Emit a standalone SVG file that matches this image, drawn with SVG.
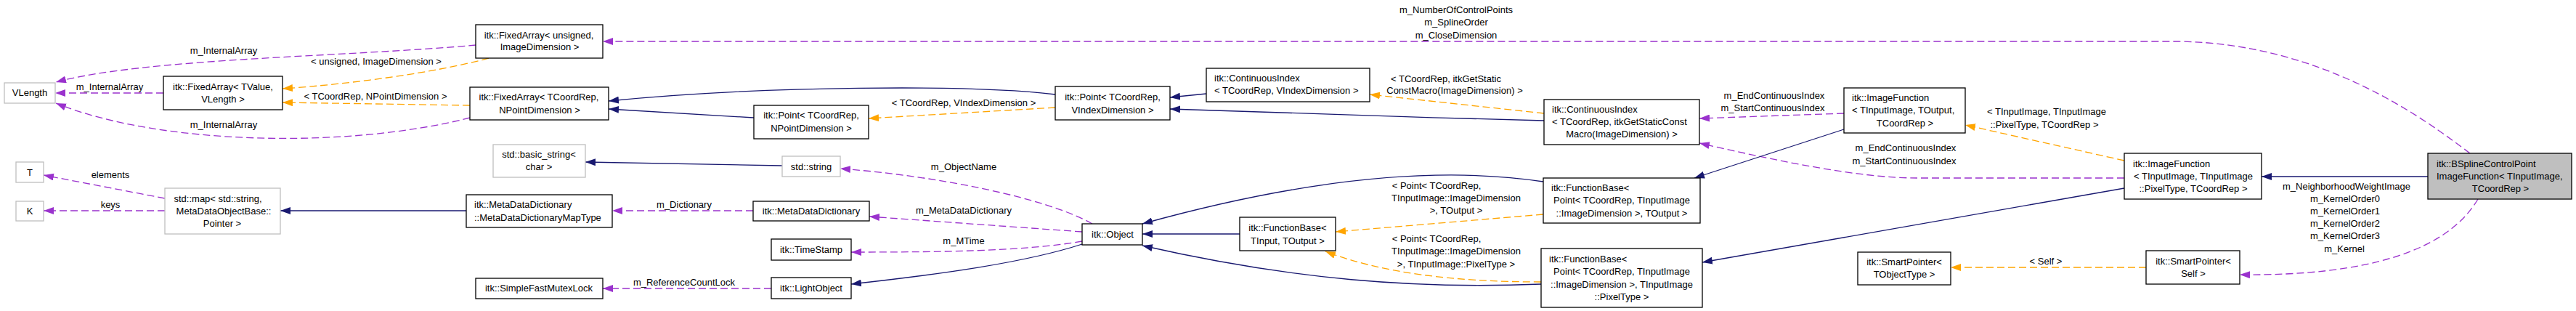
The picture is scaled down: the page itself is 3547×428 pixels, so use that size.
<svg xmlns="http://www.w3.org/2000/svg" width="3547" height="428" viewBox="0 0 3547 428">
<style>
text{font-family:"Liberation Sans",Arial,sans-serif;font-size:13px;fill:#000}
.m{text-anchor:middle}
.box{fill:#fff;stroke:#000;stroke-width:1.3}
.ext{fill:#fff;stroke:#bfbfbf;stroke-width:1.3}
.cur{fill:#bfbfbf;stroke:#000;stroke-width:1.3}
.e{fill:none;stroke-width:1.3}
.nv{stroke:#191970;marker-end:url(#an)}
.pu{stroke:#9a32cd;stroke-dasharray:10,5;marker-end:url(#ap)}
.or{stroke:#ffa500;stroke-dasharray:10,5;marker-end:url(#ao)}
</style>
<defs>
<marker id="an" viewBox="0 0 14 10" refX="14" refY="5" markerWidth="14" markerHeight="10" markerUnits="userSpaceOnUse" orient="auto"><path d="M0,0 L14,5 L0,10 z" fill="#191970"/></marker>
<marker id="ap" viewBox="0 0 14 10" refX="14" refY="5" markerWidth="14" markerHeight="10" markerUnits="userSpaceOnUse" orient="auto"><path d="M0,0 L14,5 L0,10 z" fill="#9a32cd"/></marker>
<marker id="ao" viewBox="0 0 14 10" refX="14" refY="5" markerWidth="14" markerHeight="10" markerUnits="userSpaceOnUse" orient="auto"><path d="M0,0 L14,5 L0,10 z" fill="#ffa500"/></marker>
</defs>
<rect width="3547" height="428" fill="#fff"/>
<g id="edges">
<path class="e pu" d="M3401,211 C3340,165 3200,60 3000,57 L830,57"/>
<path class="e nv" d="M3343,243 L3114,243"/>
<path class="e pu" d="M3412,274 C3370,345 3260,380 3084,378"/>
<path class="e or" d="M2955,368 L2686,368"/>
<path class="e or" d="M2925,221 L2706,172"/>
<path class="e pu" d="M2925,245 L2640,245 C2560,245 2450,222 2340,197"/>
<path class="e nv" d="M2925,259 L2344,361"/>
<path class="e pu" d="M2539,156 L2340,163"/>
<path class="e nv" d="M2539,178 L2333,245"/>
<path class="e or" d="M2126,156 L1886,130"/>
<path class="e nv" d="M2126,166 C1950,162 1750,154 1611,150"/>
<path class="e nv" d="M1661,129 L1611,134"/>
<path class="e nv" d="M1453,130 C1340,116 1050,118 838,139"/>
<path class="e or" d="M1453,148 L1196,163"/>
<path class="e nv" d="M1038,162 L838,150"/>
<path class="e or" d="M647,145 L389,141"/>
<path class="e or" d="M673,80 C600,100 480,116 389,122"/>
<path class="e pu" d="M655,62 C480,78 200,80 77,113"/>
<path class="e pu" d="M225,128 L76,128"/>
<path class="e pu" d="M647,162 C480,205 220,200 77,142"/>
<path class="e pu" d="M227,273 L60,241"/>
<path class="e pu" d="M227,290 L60,290"/>
<path class="e nv" d="M642,290 L386,290"/>
<path class="e pu" d="M1037,290 L843,290"/>
<path class="e nv" d="M1077,228 L806,223"/>
<path class="e pu" d="M1504,308 C1440,272 1290,242 1157,232"/>
<path class="e pu" d="M1490,319 L1197,298"/>
<path class="e pu" d="M1490,332 C1410,346 1290,347 1172,347"/>
<path class="e nv" d="M1490,336 C1410,362 1290,378 1172,391"/>
<path class="e pu" d="M1062,397 L830,397"/>
<path class="e nv" d="M2125,250 C1980,228 1800,245 1573,308"/>
<path class="e nv" d="M1707,322 L1573,322"/>
<path class="e nv" d="M2122,391 C1950,398 1780,385 1573,338"/>
<path class="e or" d="M2125,295 L1839,319"/>
<path class="e or" d="M2122,388 C2000,388 1900,375 1825,346"/>
<text class="m" x="2005" y="17.5">m_NumberOfControlPoints</text>
<text class="m" x="2005" y="34.5">m_SplineOrder</text>
<text class="m" x="2005" y="52.5">m_CloseDimension</text>
<text class="m" x="308" y="73.5">m_InternalArray</text>
<text class="m" x="151" y="123.5">m_InternalArray</text>
<text class="m" x="308" y="175.5">m_InternalArray</text>
<text class="m" x="518" y="88.5">&lt; unsigned, ImageDimension &gt;</text>
<text class="m" x="517" y="136.5">&lt; TCoordRep, NPointDimension &gt;</text>
<text class="m" x="152" y="244.5">elements</text>
<text class="m" x="152" y="285.5">keys</text>
<text class="m" x="942" y="285.5">m_Dictionary</text>
<text class="m" x="942" y="392.5">m_ReferenceCountLock</text>
<text class="m" x="1327" y="145.5">&lt; TCoordRep, VIndexDimension &gt;</text>
<text class="m" x="1327" y="233.5">m_ObjectName</text>
<text class="m" x="1327" y="293.5">m_MetaDataDictionary</text>
<text class="m" x="1327" y="335.5">m_MTime</text>
<text class="m" x="1991" y="112.5">&lt; TCoordRep, itkGetStatic</text>
<text class="m" x="2003" y="128.5">ConstMacro(ImageDimension) &gt;</text>
<text class="m" x="1978" y="259.5">&lt; Point&lt; TCoordRep,</text>
<text class="m" x="2005" y="276.5">TInputImage::ImageDimension</text>
<text class="m" x="2005" y="293.5">&gt;, TOutput &gt;</text>
<text class="m" x="1978" y="332.5">&lt; Point&lt; TCoordRep,</text>
<text class="m" x="2005" y="349.5">TInputImage::ImageDimension</text>
<text class="m" x="2005" y="367.5">&gt;, TInputImage::PixelType &gt;</text>
<text class="m" x="2443" y="135.5">m_EndContinuousIndex</text>
<text class="m" x="2441" y="152.5">m_StartContinuousIndex</text>
<text class="m" x="2624" y="207.5">m_EndContinuousIndex</text>
<text class="m" x="2622" y="225.5">m_StartContinuousIndex</text>
<text class="m" x="2818" y="157.5">&lt; TInputImage, TInputImage</text>
<text class="m" x="2815" y="175.5">::PixelType, TCoordRep &gt;</text>
<text class="m" x="2817" y="363.5">&lt; Self &gt;</text>
<text class="m" x="3231" y="260.5">m_NeighborhoodWeightImage</text>
<text class="m" x="3229" y="277.5">m_KernelOrder0</text>
<text class="m" x="3229" y="294.5">m_KernelOrder1</text>
<text class="m" x="3229" y="311.5">m_KernelOrder2</text>
<text class="m" x="3229" y="328.5">m_KernelOrder3</text>
<text class="m" x="3228" y="346.5">m_Kernel</text>
</g>
<g id="n_vlength"><rect class="ext" x="6" y="114" width="70" height="28"/><text class="m" x="41" y="132">VLength</text></g>
<g id="n_fixedarray_tvalue"><rect class="box" x="225" y="105" width="164" height="46"/><text class="m" x="307" y="123.5">itk::FixedArray&lt; TValue,</text><text class="m" x="307" y="140.5">VLength &gt;</text></g>
<g id="n_t"><rect class="ext" x="22" y="223" width="38" height="28"/><text class="m" x="41" y="241.5">T</text></g>
<g id="n_k"><rect class="ext" x="22" y="277" width="38" height="27"/><text class="m" x="41" y="295">K</text></g>
<g id="n_stdmap"><rect class="ext" x="227" y="259" width="159" height="63"/><text class="m" x="300" y="277.5">std::map&lt; std::string,</text><text class="m" x="308" y="294.5">MetaDataObjectBase::</text><text class="m" x="306" y="311.5">Pointer &gt;</text></g>
<g id="n_fixedarray_unsigned"><rect class="box" x="655" y="34" width="175" height="46"/><text class="m" x="742" y="52.5">itk::FixedArray&lt; unsigned,</text><text class="m" x="743" y="68.5">ImageDimension &gt;</text></g>
<g id="n_fixedarray_tcoordrep"><rect class="box" x="647" y="120" width="191" height="45"/><text class="m" x="742" y="137.5">itk::FixedArray&lt; TCoordRep,</text><text class="m" x="743" y="155.5">NPointDimension &gt;</text></g>
<g id="n_point_npoint"><rect class="box" x="1038" y="145" width="158" height="46"/><text class="m" x="1117" y="162.5">itk::Point&lt; TCoordRep,</text><text class="m" x="1117" y="180.5">NPointDimension &gt;</text></g>
<g id="n_basic_string"><rect class="ext" x="679" y="199" width="127" height="45"/><text class="m" x="742" y="216.5">std::basic_string&lt;</text><text class="m" x="742" y="233.5">char &gt;</text></g>
<g id="n_string"><rect class="ext" x="1077" y="215" width="80" height="28"/><text class="m" x="1117" y="233.5">std::string</text></g>
<g id="n_maptype"><rect class="box" x="642" y="268" width="201" height="45"/><text x="653" y="285.5">itk::MetaDataDictionary</text><text x="653" y="303.5">::MetaDataDictionaryMapType</text></g>
<g id="n_metadatadictionary"><rect class="box" x="1037" y="277" width="160" height="27"/><text class="m" x="1117" y="294.5">itk::MetaDataDictionary</text></g>
<g id="n_timestamp"><rect class="box" x="1062" y="329" width="110" height="29"/><text class="m" x="1117" y="347.5">itk::TimeStamp</text></g>
<g id="n_lightobject"><rect class="box" x="1062" y="382" width="110" height="29"/><text class="m" x="1117" y="401">itk::LightObject</text></g>
<g id="n_mutexlock"><rect class="box" x="655" y="383" width="175" height="28"/><text class="m" x="742" y="401">itk::SimpleFastMutexLock</text></g>
<g id="n_point_vindex"><rect class="box" x="1453" y="119" width="158" height="46"/><text class="m" x="1532" y="137.5">itk::Point&lt; TCoordRep,</text><text class="m" x="1532" y="155.5">VIndexDimension &gt;</text></g>
<g id="n_contindex_vindex"><rect class="box" x="1661" y="94" width="225" height="46"/><text x="1672" y="111.5">itk::ContinuousIndex</text><text x="1672" y="128.5">&lt; TCoordRep, VIndexDimension &gt;</text></g>
<g id="n_object"><rect class="box" x="1490" y="308" width="83" height="29"/><text class="m" x="1532" y="326.5">itk::Object</text></g>
<g id="n_functionbase_tinput"><rect class="box" x="1707" y="299" width="132" height="46"/><text class="m" x="1773" y="317.5">itk::FunctionBase&lt;</text><text class="m" x="1773" y="335.5">TInput, TOutput &gt;</text></g>
<g id="n_contindex_static"><rect class="box" x="2126" y="137" width="214" height="62"/><text x="2137" y="154.5">itk::ContinuousIndex</text><text x="2137" y="171.5">&lt; TCoordRep, itkGetStaticConst</text><text class="m" x="2233" y="188.5">Macro(ImageDimension) &gt;</text></g>
<g id="n_functionbase_toutput"><rect class="box" x="2125" y="245" width="216" height="62"/><text x="2136" y="262.5">itk::FunctionBase&lt;</text><text class="m" x="2233" y="279.5">Point&lt; TCoordRep, TInputImage</text><text class="m" x="2233" y="297.5">::ImageDimension &gt;, TOutput &gt;</text></g>
<g id="n_functionbase_pixeltype"><rect class="box" x="2122" y="342" width="222" height="81"/><text x="2133" y="360.5">itk::FunctionBase&lt;</text><text class="m" x="2233" y="377.5">Point&lt; TCoordRep, TInputImage</text><text class="m" x="2233" y="395.5">::ImageDimension &gt;, TInputImage</text><text class="m" x="2233" y="412.5">::PixelType &gt;</text></g>
<g id="n_imagefunction_toutput"><rect class="box" x="2539" y="121" width="167" height="62"/><text x="2550" y="138.5">itk::ImageFunction</text><text x="2550" y="155.5">&lt; TInputImage, TOutput,</text><text class="m" x="2623" y="173.5">TCoordRep &gt;</text></g>
<g id="n_imagefunction_pixeltype"><rect class="box" x="2925" y="211" width="189" height="63"/><text x="2937" y="229.5">itk::ImageFunction</text><text class="m" x="3020" y="246.5">&lt; TInputImage, TInputImage</text><text class="m" x="3020" y="263.5">::PixelType, TCoordRep &gt;</text></g>
<g id="n_smartpointer_tobject"><rect class="box" x="2558" y="347" width="128" height="45"/><text class="m" x="2622" y="364.5">itk::SmartPointer&lt;</text><text class="m" x="2622" y="381.5">TObjectType &gt;</text></g>
<g id="n_smartpointer_self"><rect class="box" x="2955" y="345" width="129" height="46"/><text class="m" x="3020" y="364">itk::SmartPointer&lt;</text><text class="m" x="3020" y="380.5">Self &gt;</text></g>
<g id="n_bspline"><rect class="cur" x="3343" y="211" width="198" height="63"/><text x="3355" y="229.5">itk::BSplineControlPoint</text><text x="3355" y="246.5">ImageFunction&lt; TInputImage,</text><text class="m" x="3443" y="263.5">TCoordRep &gt;</text></g>
</svg>
